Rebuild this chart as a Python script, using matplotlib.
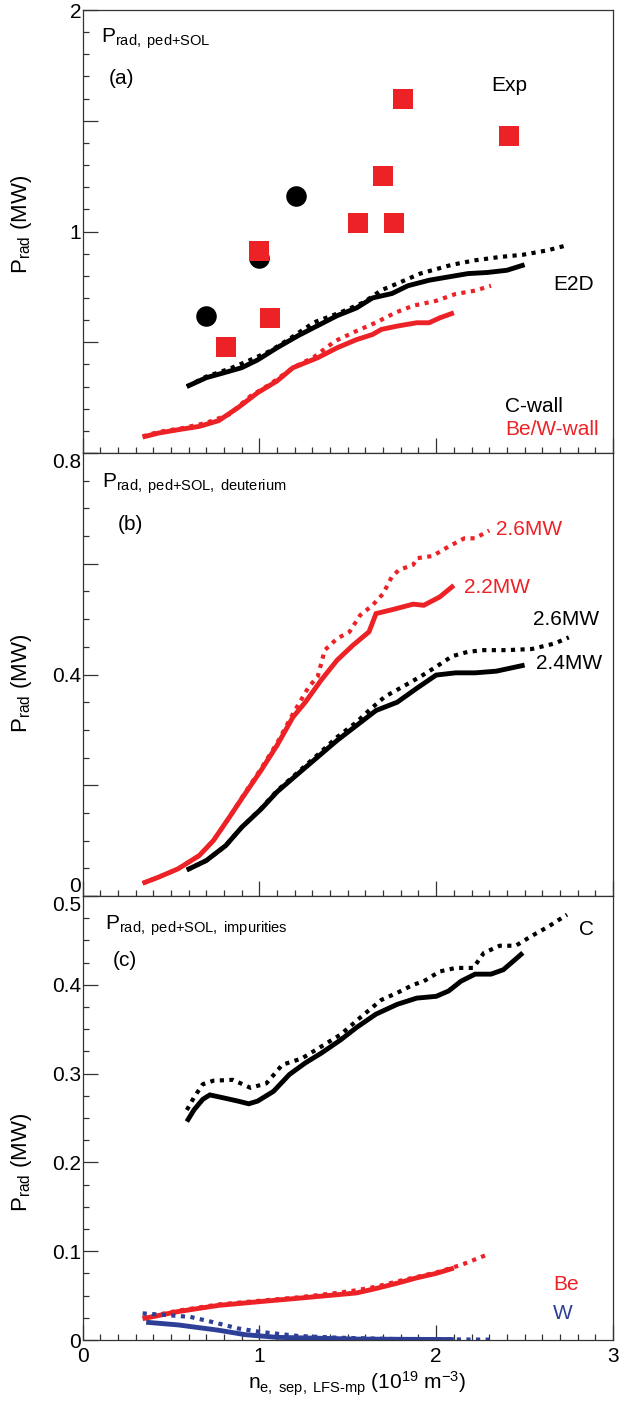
""" radiated power vs separatrix density, three stacked panels """

import numpy as np
import matplotlib.pyplot as plt
from matplotlib.ticker import MultipleLocator

plt.rcParams['font.family'] = ['Liberation Sans', 'DejaVu Sans']
plt.rcParams['mathtext.fontset'] = 'custom'
plt.rcParams['mathtext.rm'] = 'Liberation Sans'
plt.rcParams['mathtext.it'] = 'Liberation Sans:italic'

RED = '#ec2227'
BLUE = '#2e3f98'

# ---- panel (a): total ped+SOL radiation ----
exp_c_x = [0.70, 1.00, 1.21]
exp_c_y = [0.62, 0.88, 1.16]
exp_be_x = [0.81, 1.00, 1.06, 1.56, 1.70, 1.76, 1.81, 2.41]
exp_be_y = [0.48, 0.91, 0.61, 1.04, 1.25, 1.04, 1.60, 1.43]

a_c_sol_x = [0.59, 0.70, 0.79, 0.90, 0.99, 1.10, 1.22, 1.33, 1.44, 1.55, 1.64, 1.75, 1.84, 1.96, 2.07, 2.18, 2.29, 2.40, 2.50]
a_c_sol_y = [0.30, 0.34, 0.36, 0.385, 0.42, 0.475, 0.53, 0.575, 0.62, 0.655, 0.70, 0.72, 0.755, 0.78, 0.795, 0.81, 0.815, 0.825, 0.85]
a_c_dot_x = [0.59, 0.70, 0.83, 0.92, 1.06, 1.17, 1.31, 1.46, 1.59, 1.69, 1.78, 1.91, 2.09, 2.22, 2.36, 2.49, 2.63, 2.75]
a_c_dot_y = [0.30, 0.345, 0.38, 0.41, 0.46, 0.515, 0.59, 0.635, 0.68, 0.735, 0.765, 0.81, 0.85, 0.87, 0.885, 0.895, 0.915, 0.94]
a_be_sol_x = [0.34, 0.43, 0.54, 0.66, 0.77, 0.88, 0.99, 1.10, 1.19, 1.33, 1.44, 1.55, 1.64, 1.69, 1.78, 1.89, 1.96, 2.02, 2.10]
a_be_sol_y = [0.072, 0.09, 0.105, 0.12, 0.146, 0.205, 0.272, 0.325, 0.385, 0.43, 0.475, 0.512, 0.535, 0.558, 0.573, 0.588, 0.588, 0.61, 0.633]
a_be_dot_x = [0.34, 0.43, 0.57, 0.70, 0.83, 0.95, 1.06, 1.19, 1.31, 1.43, 1.55, 1.66, 1.77, 1.87, 2.00, 2.11, 2.22, 2.31]
a_be_dot_y = [0.075, 0.095, 0.113, 0.136, 0.174, 0.257, 0.31, 0.385, 0.434, 0.506, 0.551, 0.589, 0.634, 0.665, 0.687, 0.718, 0.733, 0.755]

# ---- panel (b): deuterium ----
b_be22_x = [0.34, 0.43, 0.54, 0.66, 0.74, 0.83, 0.92, 1.01, 1.10, 1.19, 1.26, 1.35, 1.44, 1.53, 1.62, 1.66, 1.75, 1.87, 1.93, 2.02, 2.10]
b_be22_y = [0.023, 0.034, 0.049, 0.073, 0.100, 0.142, 0.185, 0.227, 0.272, 0.323, 0.350, 0.390, 0.426, 0.453, 0.477, 0.510, 0.517, 0.527, 0.525, 0.540, 0.561]
b_be26_x = [0.34, 0.43, 0.54, 0.66, 0.74, 0.83, 0.92, 1.01, 1.10, 1.19, 1.28, 1.33, 1.37, 1.44, 1.51, 1.57, 1.64, 1.70, 1.75, 1.79, 1.87, 1.89, 1.98, 2.07, 2.16, 2.22, 2.30]
b_be26_y = [0.023, 0.034, 0.049, 0.073, 0.100, 0.142, 0.187, 0.230, 0.276, 0.329, 0.378, 0.396, 0.444, 0.465, 0.477, 0.507, 0.525, 0.546, 0.577, 0.589, 0.598, 0.610, 0.614, 0.631, 0.646, 0.646, 0.660]
b_c24_x = [0.59, 0.70, 0.81, 0.90, 1.01, 1.10, 1.22, 1.33, 1.44, 1.55, 1.66, 1.78, 1.89, 2.00, 2.11, 2.22, 2.34, 2.50]
b_c24_y = [0.047, 0.064, 0.091, 0.124, 0.157, 0.188, 0.221, 0.251, 0.281, 0.308, 0.335, 0.350, 0.375, 0.399, 0.403, 0.403, 0.406, 0.417]
b_c26_x = [0.59, 0.70, 0.81, 0.90, 1.01, 1.10, 1.22, 1.33, 1.44, 1.55, 1.62, 1.71, 1.80, 1.91, 2.00, 2.09, 2.18, 2.27, 2.40, 2.54, 2.67, 2.75]
b_c26_y = [0.047, 0.064, 0.091, 0.124, 0.158, 0.190, 0.224, 0.255, 0.287, 0.314, 0.335, 0.360, 0.376, 0.396, 0.414, 0.433, 0.441, 0.444, 0.444, 0.446, 0.456, 0.467]

# ---- panel (c): impurities ----
c_c_sol_x = [0.59, 0.63, 0.68, 0.72, 0.79, 0.88, 0.94, 0.99, 1.08, 1.17, 1.26, 1.35, 1.46, 1.55, 1.66, 1.78, 1.89, 2.00, 2.07, 2.14, 2.22, 2.31, 2.38, 2.45, 2.49]
c_c_sol_y = [0.246, 0.259, 0.271, 0.276, 0.273, 0.269, 0.266, 0.269, 0.280, 0.299, 0.312, 0.323, 0.338, 0.352, 0.367, 0.378, 0.385, 0.387, 0.393, 0.404, 0.412, 0.412, 0.417, 0.429, 0.436]
c_c_dot_x = [0.59, 0.63, 0.68, 0.74, 0.85, 0.95, 1.04, 1.13, 1.24, 1.33, 1.46, 1.57, 1.69, 1.78, 1.87, 1.93, 2.02, 2.11, 2.21, 2.27, 2.36, 2.45, 2.54, 2.63, 2.74]
c_c_dot_y = [0.259, 0.273, 0.288, 0.292, 0.293, 0.284, 0.289, 0.310, 0.317, 0.328, 0.344, 0.363, 0.383, 0.391, 0.400, 0.404, 0.415, 0.419, 0.419, 0.436, 0.444, 0.444, 0.455, 0.465, 0.479]
c_be_sol_x = [0.34, 0.54, 0.77, 0.99, 1.22, 1.44, 1.55, 1.66, 1.78, 1.89, 2.00, 2.10]
c_be_sol_y = [0.024, 0.032, 0.039, 0.043, 0.047, 0.051, 0.053, 0.058, 0.064, 0.070, 0.075, 0.081]
c_be_dot_x = [0.34, 0.54, 0.77, 0.99, 1.22, 1.44, 1.55, 1.66, 1.78, 1.89, 2.00, 2.10, 2.16, 2.30]
c_be_dot_y = [0.025, 0.033, 0.040, 0.044, 0.048, 0.053, 0.056, 0.060, 0.066, 0.071, 0.076, 0.082, 0.086, 0.097]
c_w_sol_x = [0.36, 0.54, 0.77, 0.92, 1.10, 1.33, 1.55, 1.78, 2.10]
c_w_sol_y = [0.020, 0.017, 0.011, 0.006, 0.003, 0.002, 0.001, 0.0008, 0.0005]
c_w_dot_x = [0.34, 0.48, 0.61, 0.74, 0.88, 1.01, 1.22, 1.44, 1.78, 2.30]
c_w_dot_y = [0.030, 0.028, 0.026, 0.020, 0.013, 0.009, 0.0045, 0.0026, 0.001, 0.0004]

fig = plt.figure(figsize=(6.21, 14.03), dpi=100)
W, H = 621, 1403
L, R = 82.5, 613


def panel(top, bot):
    return fig.add_axes([L / W, 1 - bot / H, (R - L) / W, (bot - top) / H])


ax_a = panel(10, 453)
ax_b = panel(453, 896)
ax_c = panel(896, 1340)

SOL = dict(lw=3.5, solid_capstyle='butt', solid_joinstyle='miter')
DOT = dict(lw=3.0, linestyle=(0, (1.0, 1.3)), dash_capstyle='butt')


def curve(ax, x, y, color, dotted=False):
    ax.plot(x, y, color=color, **(DOT if dotted else SOL))


# (a)
curve(ax_a, a_c_sol_x, a_c_sol_y, 'black')
curve(ax_a, a_c_dot_x, a_c_dot_y, 'black', True)
curve(ax_a, a_be_sol_x, a_be_sol_y, RED)
curve(ax_a, a_be_dot_x, a_be_dot_y, RED, True)
ax_a.plot(exp_c_x, exp_c_y, 'o', color='black', ms=14.8, mew=0, zorder=4)
ax_a.plot(exp_be_x, exp_be_y, 's', color=RED, ms=15, mew=0, zorder=5)

# (b)
curve(ax_b, b_be22_x, b_be22_y, RED)
curve(ax_b, b_be26_x, b_be26_y, RED, True)
curve(ax_b, b_c24_x, b_c24_y, 'black')
curve(ax_b, b_c26_x, b_c26_y, 'black', True)

# (c)
curve(ax_c, c_c_sol_x, c_c_sol_y, 'black')
curve(ax_c, c_c_dot_x, c_c_dot_y, 'black', True)
curve(ax_c, c_be_sol_x, c_be_sol_y, RED)
curve(ax_c, c_be_dot_x, c_be_dot_y, RED, True)
curve(ax_c, c_w_sol_x, c_w_sol_y, BLUE)
curve(ax_c, c_w_dot_x, c_w_dot_y, BLUE, True)

FS = 15
for ax in (ax_a, ax_b, ax_c):
    ax.set_xlim(0, 3)
    ax.xaxis.set_major_locator(MultipleLocator(1))
    ax.xaxis.set_minor_locator(MultipleLocator(0.1))
    ax.tick_params(which='both', direction='in', top=False, right=False,
                   labelsize=FS, width=0.9, color='#333333')
    ax.tick_params(which='major', length=11)
    ax.tick_params(which='minor', length=4.5)
    ax.tick_params(axis='y', pad=1)
    ax.tick_params(axis='x', pad=5)
    for sp in ax.spines.values():
        sp.set_linewidth(0.9)
        sp.set_color('#333333')
    ax.set_ylabel(r'P$_{\rm rad}$ (MW)', fontsize=16)

for ax in (ax_a, ax_b):
    ax.tick_params(axis='x', labelbottom=False)

ax_a.set_ylim(0, 2)
ax_a.set_yticks([0, 0.5, 1, 1.5, 2], ['', '', '1', '', '2'])
ax_a.yaxis.set_minor_locator(MultipleLocator(0.1))
ax_a.yaxis.set_label_coords(-0.091, 0.515)

ax_b.set_ylim(0, 0.8)
ax_b.set_yticks([0, 0.2, 0.4, 0.6, 0.8], ['0', '', '0.4', '', '0.8'])
ax_b.yaxis.set_minor_locator(MultipleLocator(0.05))
ax_b.yaxis.set_label_coords(-0.091, 0.48)
tb = ax_b.yaxis.get_major_ticks()
tb[0].label1.set_va('bottom')
tb[-1].label1.set_va('top')

ax_c.set_ylim(0, 0.5)
ax_c.set_yticks([0, 0.1, 0.2, 0.3, 0.4, 0.5], ['0', '0.1', '0.2', '0.3', '0.4', '0.5'])
ax_c.yaxis.set_minor_locator(MultipleLocator(0.025))
ax_c.yaxis.set_label_coords(-0.091, 0.40)
ax_c.yaxis.get_major_ticks()[-1].label1.set_va('top')
ax_c.set_xticks([0, 1, 2, 3], ['0', '1', '2', '3'])

fig.text(357 / W, 1 - 1384 / H, r'n$_{\rm e,\ sep,\ LFS\text{-}mp}$ (10$^{19}$ m$^{-3}$)',
         fontsize=FS, ha='center', va='center')

# annotations
ax_a.text(0.105, 1.87, r'P$_{\rm rad,\ ped{+}SOL}$', fontsize=FS, va='center')
ax_a.text(0.146, 1.69, '(a)', fontsize=FS, va='center')
ax_a.text(2.31, 1.66, 'Exp', fontsize=FS, va='center')
ax_a.text(2.66, 0.76, 'E2D', fontsize=FS, va='center')
ax_a.text(2.39, 0.21, 'C-wall', fontsize=FS, va='center')
ax_a.text(2.39, 0.105, 'Be/W-wall', fontsize=FS, va='center', color=RED)

ax_b.text(0.112, 0.745, r'P$_{\rm rad,\ ped{+}SOL,\ deuterium}$', fontsize=FS, va='center')
ax_b.text(0.197, 0.67, '(b)', fontsize=FS, va='center')
ax_b.text(2.34, 0.661, '2.6MW', fontsize=FS, va='center', color=RED)
ax_b.text(2.16, 0.557, '2.2MW', fontsize=FS, va='center', color=RED)
ax_b.text(2.55, 0.499, '2.6MW', fontsize=FS, va='center')
ax_b.text(2.565, 0.42, '2.4MW', fontsize=FS, va='center')

ax_c.text(0.128, 0.466, r'P$_{\rm rad,\ ped{+}SOL,\ impurities}$', fontsize=FS, va='center')
ax_c.text(0.173, 0.427, '(c)', fontsize=FS, va='center')
ax_c.text(2.81, 0.462, 'C', fontsize=FS, va='center')
ax_c.text(2.66, 0.062, 'Be', fontsize=FS, va='center', color=RED)
ax_c.text(2.66, 0.030, 'W', fontsize=FS, va='center', color=BLUE)

fig.savefig('out.png', dpi=100)
